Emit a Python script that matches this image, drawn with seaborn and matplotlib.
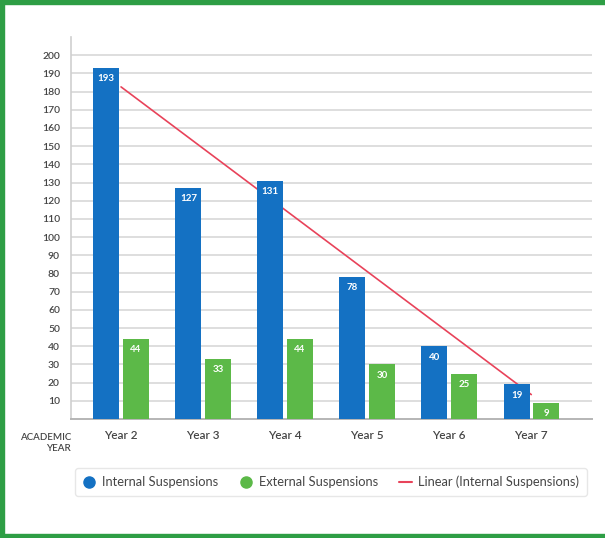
import numpy as np
import pandas as pd
import seaborn as sns
import matplotlib.pyplot as plt
from matplotlib.patches import Rectangle
from matplotlib.lines import Line2D

# datos del grafico
years = ['Year 2', 'Year 3', 'Year 4', 'Year 5', 'Year 6', 'Year 7']
internal = [193, 127, 131, 78, 40, 19]
external = [44, 33, 44, 30, 25, 9]
y_ticks = list(range(10, 210, 10))

blue = '#1471c3'
green = '#5cb948'
red = '#e8435a'
text_col = '#454545'

sns.set_theme(style='white')
plt.rcParams['font.family'] = ['Lato', 'DejaVu Sans']

df = pd.DataFrame({
    'year': years * 2,
    'value': internal + external,
    'tipo': ['Internal Suspensions'] * len(years) + ['External Suspensions'] * len(years),
})

fig = plt.figure(figsize=(6.05, 5.38), dpi=100)
ax = fig.add_axes([71 / 605, 1 - 419 / 538, (592 - 71) / 605, (419 - 37) / 538])

sns.barplot(data=df, x='year', y='value', hue='tipo', palette=[blue, green],
            width=0.72, gap=0.12, saturation=1, ax=ax, legend=False, zorder=3,
            linewidth=0)

# linea de tendencia (ajuste lineal de Internal)
xs = np.arange(len(years))
coef = np.polyfit(xs, internal, 1)
ax.plot(xs, np.polyval(coef, xs), color=red, lw=1.2, zorder=2)

# etiquetas dentro de las barras
for cont in ax.containers:
    for bar in cont:
        h = bar.get_height()
        ax.text(bar.get_x() + bar.get_width() / 2, h - 3.5, f'{int(h)}',
                ha='center', va='top', color='white', fontsize=7, fontweight='bold', zorder=4)

ax.set_xlim(-0.61, 5.74)
ax.set_ylim(0, 210)
ax.set_yticks(y_ticks)
ax.set_yticklabels([str(t) for t in y_ticks], fontsize=7.5, color=text_col, fontweight='semibold')
ax.tick_params(axis='x', labelsize=8.5, labelcolor=text_col, pad=8, length=0)
ax.tick_params(axis='y', length=0, pad=8)
for lbl in ax.get_xticklabels():
    lbl.set_fontweight('semibold')
ax.set_xlabel('')
ax.set_ylabel('')
ax.grid(axis='y', color='#dedede', lw=1.4, zorder=0)
ax.set_axisbelow(True)
for s in ['top', 'right']:
    ax.spines[s].set_visible(False)
ax.spines['left'].set_color('#cfcfcf')
ax.spines['bottom'].set_color('#b5b5b5')
ax.spines['left'].set_linewidth(1.2)
ax.spines['bottom'].set_linewidth(1.4)

fig.text(71 / 605, 1 - 443 / 538, 'ACADEMIC\nYEAR', ha='right', va='center',
         fontsize=7, color=text_col, linespacing=1.35, fontweight='semibold')

handles = [
    Line2D([], [], marker='o', ls='', color=blue, markersize=8),
    Line2D([], [], marker='o', ls='', color=green, markersize=8),
    Line2D([], [], color=red, lw=1.5),
]
labels = ['Internal Suspensions', 'External Suspensions', 'Linear (Internal Suspensions)']
leg = fig.legend(handles, labels, loc='center', ncol=3,
                 bbox_to_anchor=(331 / 605, 1 - 482 / 538),
                 fontsize=9.3, frameon=True, fancybox=True,
                 handlelength=1.0, handletextpad=0.5, columnspacing=1.6, borderpad=0.6,
                 borderaxespad=0)
leg.get_frame().set_edgecolor('#e2e2e2')
leg.get_frame().set_linewidth(1.0)
for t in leg.get_texts():
    t.set_color(text_col)

# borde verde
for r in [(0, 0, 4 / 605, 1), (0, 1 - 4 / 538, 1, 4 / 538), (0, 0, 1, 4 / 538)]:
    fig.add_artist(Rectangle((r[0], r[1]), r[2], r[3], transform=fig.transFigure,
                             color='#2e9e45', zorder=10))

plt.savefig('out.png', dpi=100)
